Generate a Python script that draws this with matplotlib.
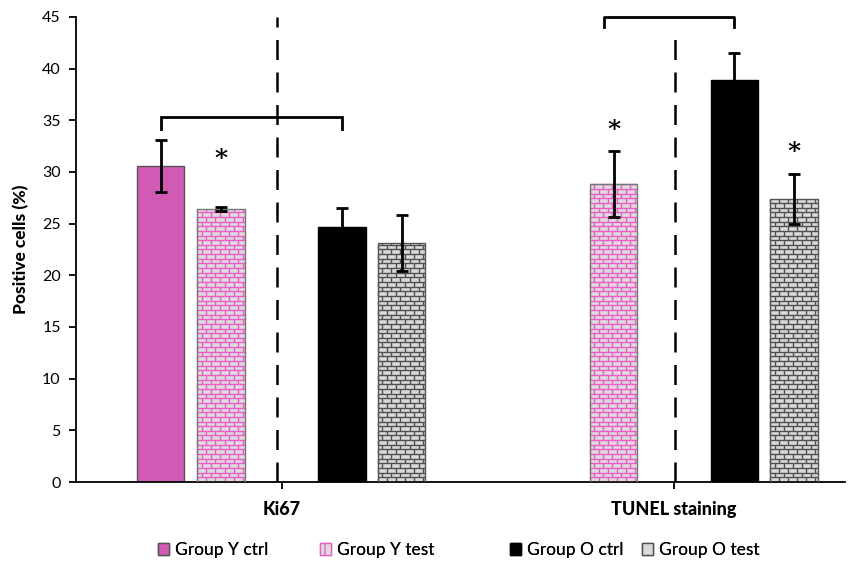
import numpy as np
import matplotlib
matplotlib.use("Agg")
import matplotlib.pyplot as plt
from matplotlib.patches import Patch
from matplotlib.collections import LineCollection

plt.rcParams['font.family'] = ['Lato', 'DejaVu Sans']

# ---- data ----
categories = ["Ki67", "TUNEL staining"]
series = ["Group Y ctrl", "Group Y test", "Group O ctrl", "Group O test"]
values = {
    "Group Y ctrl": [30.6, np.nan],
    "Group Y test": [26.4, 28.8],
    "Group O ctrl": [24.7, 38.9],
    "Group O test": [23.1, 27.4],
}
errors = {
    "Group Y ctrl": [2.5, np.nan],
    "Group Y test": [0.2, 3.2],
    "Group O ctrl": [1.8, 2.6],
    "Group O test": [2.7, 2.4],
}
# significance stars: (category index, series, y)
stars = [(0, "Group Y test", 31.3), (1, "Group Y test", 34.1), (1, "Group O test", 31.9)]
# comparison brackets: (category, left series, right series, top, leg bottom)
brackets = [(0, "Group Y ctrl", "Group O ctrl", 35.3, 34.2)]
y_ticks = list(range(0, 50, 5))

# ---- styling ----
offsets = {"Group Y ctrl": -0.308, "Group Y test": -0.154,
           "Group O ctrl": 0.154, "Group O test": 0.306}
bar_w = 0.121
styles = {
    "Group Y ctrl": dict(face="#d05ab4", edge="#555555", brick=None),
    "Group Y test": dict(face="#dcdcdc", edge="#777777", brick="#ec5cc8"),
    "Group O ctrl": dict(face="#000000", edge="#000000", brick=None),
    "Group O test": dict(face="#d9d9d9", edge="#555555", brick="#505050"),
}

fig = plt.figure(figsize=(8.57, 5.65), dpi=100)
ax = fig.add_axes([0.0887, 0.1469, 0.8973, 0.8231])
ax.set_xlim(-0.524, 1.436)
ax.set_ylim(0, 45)

x_cat = np.arange(len(categories))


def brick_fill(ax, rect, color, row_h=0.45, brick_w=0.023):
    x0, w, h = rect.get_x(), rect.get_width(), rect.get_height()
    segs = []
    y = 0.0
    row = 0
    while y < h:
        segs.append([(x0, y), (x0 + w, y)])
        shift = (brick_w / 2) * (row % 2)
        xv = x0 + shift
        while xv < x0 + w:
            segs.append([(xv, y), (xv, min(y + row_h, h))])
            xv += brick_w
        y += row_h
        row += 1
    lc = LineCollection(segs, colors=color, linewidths=1.0, zorder=2.5)
    lc.set_clip_path(rect)
    ax.add_collection(lc)


for s in series:
    st = styles[s]
    xs = x_cat + offsets[s]
    bars = ax.bar(xs, values[s], width=bar_w, color=st["face"],
                  edgecolor=st["edge"], linewidth=1.0, zorder=2)
    if st["brick"]:
        for r in bars:
            if np.isfinite(r.get_height()):
                brick_fill(ax, r, st["brick"])
        for r in bars:
            r.set_zorder(3)
            r.set_facecolor("none")
        ax.bar(xs, values[s], width=bar_w, color=st["face"], zorder=1.5,
               linewidth=0)
    ax.errorbar(xs, values[s], yerr=errors[s], fmt="none", ecolor="black",
                elinewidth=2, capsize=4, capthick=2, zorder=4)

for ci, s, yv in stars:
    ax.text(ci + offsets[s], yv, "*", ha="center", va="center",
            fontsize=18, fontweight="bold", family="DejaVu Serif", zorder=5)

for ci, s1, s2, top, bot in brackets:
    xa, xb = ci + offsets[s1], ci + offsets[s2]
    ax.plot([xa, xa, xb, xb], [bot, top, top, bot], color="black", lw=2,
            zorder=5, solid_joinstyle="miter")

# bracket over the TUNEL staining group (spans up to the top of the axis)
ax.plot([1 - 0.177, 1 - 0.177, 1 + offsets["Group O ctrl"], 1 + offsets["Group O ctrl"]],
        [44.0, 45, 45, 44.0], color="black", lw=2, zorder=5, clip_on=False)

# dashed separators between young and old groups
ax.plot([-0.013, -0.013], [0, 45], color="black", lw=1.8, dashes=(8, 5), zorder=1)
ax.plot([1.0025, 1.0025], [0, 44.0], color="black", lw=1.8, dashes=(8, 5), zorder=1)

ax.set_yticks(y_ticks)
ax.set_yticklabels([str(v) for v in y_ticks], fontsize=11.5)
ax.set_xticks([0.0, 1.0])
ax.set_xticklabels(["", ""])
for ci, c in enumerate(categories):
    ax.text(ci, -2.7, c, ha="center", va="center", fontsize=13,
            fontweight="black")

ax.set_ylabel("Positive cells (%)", fontsize=12.5, fontweight="black", labelpad=9)
for side in ("top", "right"):
    ax.spines[side].set_visible(False)
for side in ("left", "bottom"):
    ax.spines[side].set_linewidth(1.3)
ax.tick_params(axis="y", direction="out", length=5, width=1.3, pad=6)
ax.tick_params(axis="x", direction="out", length=5, width=1.3)

handles = [
    Patch(facecolor="#d05ab4", edgecolor="#555555", label="Group Y ctrl"),
    Patch(facecolor="#dcdcdc", edgecolor="#ec5cc8", hatch="+", label="Group Y test"),
    Patch(facecolor="#000000", edgecolor="#000000", label="Group O ctrl"),
    Patch(facecolor="#d9d9d9", edgecolor="#505050", hatch="+", label="Group O test"),
]
# legend entries placed individually along the bottom (left edges in pixels)
entry_left_px = [158, 320, 510, 642]
W, H = 857, 565
for h, xp in zip(handles, entry_left_px):
    lg = fig.legend(handles=[h], loc="center left",
                    bbox_to_anchor=(xp / W, (H - 550) / H),
                    frameon=False, fontsize=12.5, handlelength=0.65,
                    handleheight=0.65, handletextpad=0.35, borderpad=0,
                    borderaxespad=0)
    fig.add_artist(lg)

fig.savefig("out.png", dpi=100)
